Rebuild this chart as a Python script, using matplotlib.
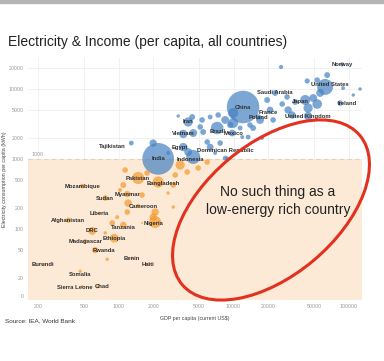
import matplotlib
matplotlib.use("Agg")
import matplotlib.pyplot as plt
from matplotlib.patches import Ellipse, Rectangle
from matplotlib.transforms import IdentityTransform
import numpy as np

plt.rcParams['font.family'] = ['Liberation Sans', 'DejaVu Sans']

# labelled countries: GDP per capita (US$), electricity per capita (kWh), population (m)
countries = ["Norway", "United States", "Ireland", "Japan", "Saudi Arabia", "China",
             "France", "Poland", "United Kingdom", "Iran", "Vietnam", "Brazil", "Mexico",
             "Egypt", "Dominican Republic", "Indonesia", "India", "Tajikistan",
             "Pakistan", "Bangladesh", "Mozambique", "Myanmar", "Sudan", "Cameroon",
             "Liberia", "Afghanistan", "Tanzania", "Nigeria", "DRC", "Ethiopia",
             "Madagascar", "Rwanda", "Benin", "Haiti", "Burundi", "Somalia",
             "Sierra Leone", "Chad"]
gdp = [88000, 62600, 84500, 42000, 23000, 12100,
       20800, 16400, 44500, 4030, 3650, 7200, 9730,
       3650, 6260, 4460, 2210, 1290,
       1480, 2210, 483, 1190, 766, 1480,
       678, 365, 1100, 2080, 590, 917,
       513, 626, 1310, 1810, 221, 463,
       483, 652]
elec = [22500, 10700, 6300, 6960, 8770, 5530,
        5000, 3980, 4110, 3380, 2280, 2770, 2350,
        1480, 1480, 1070, 1005, 1690,
        535, 469, 411, 316, 277, 213,
        169, 134, 114, 126, 94, 74,
        67, 50, 38.5, 31.6, 31.6, 25,
        15.3, 14.9]
pop = [23, 330, 40, 130, 45, 1370,
       60, 40, 90, 110, 92, 205, 60,
       90, 60, 255, 1300, 30,
       190, 160, 28, 52, 40, 23,
       10, 35, 55, 185, 80, 100,
       24, 50, 11, 11, 10, 14,
       7, 14]

# other (unlabelled) countries
other_gdp = [25900, 65200, 53400, 43700, 56600, 89700, 110000, 126000, 49300, 53400,
             44500, 34400, 19600, 26500, 29800, 32300, 22100, 8450, 9350, 14800,
             9930, 9930, 11400, 11900, 13900, 17000, 4370, 5330, 5130, 7350,
             6260, 4460, 5440, 4030, 5900, 7650, 2000, 2700, 6920, 8800,
             3300, 17700, 29200, 13400, 8450,
             3430, 3950, 4920, 5900, 3110, 2700, 1140, 1770, 1100, 1030,
             1600, 1210, 1190, 2080, 2000, 1600, 880, 766, 796, 2990,
             973, 2990]
other_elec = [20600, 15800, 13400, 13000, 8770, 10300, 8210, 10000, 7430, 6100,
              5350, 6520, 6960, 6100, 5010, 4250, 3610, 3610, 3060, 2770,
              3270, 4540, 2770, 2060, 3060, 3610, 3980, 3610, 2870, 4250,
              3980, 2350, 2430, 1260, 1750, 1690, 1690, 1220, 1220, 1030,
              4110, 2000, 7690, 2060, 1030,
              821, 652, 744, 906, 591, 327, 697, 631, 425, 361,
              306, 235, 175, 175, 148, 122, 122, 88, 37, 206,
              148, 425]
other_pop = [23, 45, 40, 35, 80, 20, 15, 15, 80, 120,
             110, 45, 45, 40, 70, 70, 40, 80, 50, 45,
             130, 130, 30, 20, 40, 80, 45, 40, 40, 40,
             30, 80, 45, 80, 40, 40, 70, 20, 20, 15,
             15, 20, 40, 30, 30,
             110, 40, 40, 40, 40, 15, 40, 40, 45, 20,
             40, 70, 40, 70, 70, 5, 40, 15, 15, 15,
             20, 40]

# label nudges (image pixels: right, down)
label_nudge = {"Tajikistan": (-19, 3), "Dominican Republic": (15, 3), "Bangladesh": (5, 1),
               "Cameroon": (5, 0), "Rwanda": (9, 0), "Ireland": (7, 0), "Japan": (-5, 1),
               "United States": (5, -2), "France": (-2, 2), "Brazil": (0, 3), "Egypt": (-3, 0),
               "Mexico": (1, 0),
               "Indonesia": (-3, 3), "Tanzania": (0, 2), "Nigeria": (-2, 1), "Somalia": (0, 3),
               "Sierra Leone": (-7, 1), "Chad": (5, 0)}

BLUE = "#4581c2"
ORANGE = "#f5982a"
k = 0.4

fig = plt.figure(figsize=(3.84, 3.61), dpi=100)
fig.patches.append(Rectangle((0, 1 - 3 / 361), 1, 3 / 361, transform=fig.transFigure,
                             color="#b5b5b5", zorder=0))
ax = fig.add_axes([28 / 384, 61 / 361, 334 / 384, 242 / 361])
ax.set_xscale("log")
ax.set_yscale("log")
ax.set_xlim(163, 131000)
ax.set_ylim(9.7, 27700)

ax.axhspan(9.7, 1000, color="#fce9d6", zorder=0.6, lw=0)
ax.axhline(1000, color="#e9cfb3", lw=0.8, ls=(0, (4, 3)), zorder=0.7)
ax.text(175, 1080, "1000", fontsize=3.8, color="#999999", va="bottom")

all_g = np.array(gdp + other_gdp, dtype=float)
all_e = np.array(elec + other_elec, dtype=float)
all_p = np.array(pop + other_pop, dtype=float)
order = np.argsort(-all_p)
cols = np.where(all_e >= 1000, BLUE, ORANGE)
ax.scatter(all_g[order], all_e[order], s=all_p[order] * k, c=cols[order],
           alpha=0.7, lw=0, zorder=2)

for name, g, e in zip(countries, gdp, elec):
    dx, dy = label_nudge.get(name, (0, 0))
    ax.annotate(name, (g, e), xytext=(dx, -dy), textcoords="offset pixels",
                ha="center", va="center", fontsize=4.2, fontweight="bold",
                color="#2f2f2f", zorder=3)

xt = [200, 500, 1000, 2000, 5000, 10000, 20000, 50000, 100000]
yt = [11, 20, 50, 100, 200, 500, 1000, 2000, 5000, 10000, 20000]
ax.set_xticks(xt)
ax.set_xticklabels([str(v) for v in xt])
ax.set_yticks(yt)
ax.set_yticklabels(["0"] + [str(v) for v in yt[1:]])
ax.minorticks_off()
ax.tick_params(length=0, labelsize=3.8, labelcolor="#999999", pad=3)
ax.grid(True, color="#efefef", lw=0.6)
ax.set_axisbelow(True)
for s in ax.spines.values():
    s.set_visible(False)
ax.set_xlabel("GDP per capita (current US$)", fontsize=3.8, color="#444444", labelpad=5)
ax.set_ylabel("Electricity consumption per capita (kWh)", fontsize=3.8, color="#444444")
ax.yaxis.set_label_coords(-0.062, 0.5)

fig.text(8 / 384, 1 - 42 / 361, "Electricity & Income (per capita, all countries)",
         fontsize=10, color="#222222", va="center")
fig.text(5 / 384, 1 - 321 / 361, "Source: IEA, World Bank", fontsize=4.6,
         color="#333333", va="center")

fig.add_artist(Ellipse((271, 361 - 210), 232, 132, angle=40, fill=False,
                       ec="#e2321f", lw=2.2, transform=IdentityTransform(), zorder=5))
fig.text(278 / 384, 1 - 201 / 361, "No such thing as a\nlow-energy rich country",
         fontsize=10, color="#222222", ha="center", va="center", linespacing=1.3)

fig.savefig("out.png", dpi=100)
